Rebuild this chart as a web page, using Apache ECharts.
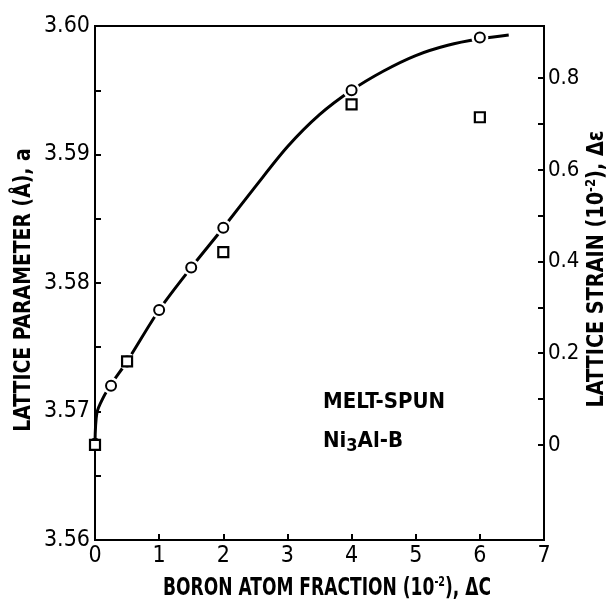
<!DOCTYPE html>
<html>
<head>
<meta charset="utf-8">
<script src="https://cdn.jsdelivr.net/npm/echarts@6/dist/echarts.min.js"></script>
<style>
  html, body { margin: 0; padding: 0; background: #fff; }
  #main { width: 608px; height: 602px; }
</style>
</head>
<body>
<div id="main"></div>
<script>
// 读图得到的数据
var fontName = "'DejaVu Sans Condensed', 'DejaVu Sans', sans-serif"
var xTicks = [0, 1, 2, 3, 4, 5, 6, 7]
var leftTicks = [3.56, 3.57, 3.58, 3.59, 3.60]
var strainLabels = [0, 0.2, 0.4, 0.6, 0.8]
var strainMinor = [0, 0.1, 0.2, 0.3, 0.4, 0.5, 0.6, 0.7, 0.8]
var a0 = 3.5674 // 无硼时的晶格常数
// 拟合曲线
var curveX = [0, 0.03, 0.13, 0.25, 0.5, 1, 1.5, 2, 2.5, 3, 3.5, 4, 4.5, 5, 5.5, 6, 6.45]
var curveA = [3.5675, 3.5699, 3.5711, 3.5721, 3.5739, 3.5779, 3.5812, 3.5843, 3.5875, 3.5906, 3.5931, 3.5950, 3.5965, 3.5977, 3.5985, 3.5990, 3.5993]
// 圆点：晶格常数
var circleX = [0, 0.25, 0.5, 1, 1.5, 2, 4, 6]
var circleA = [3.5675, 3.5720, 3.5739, 3.5779, 3.5812, 3.5843, 3.5950, 3.5991]
// 方点：晶格应变
var squareX = [0, 0.5, 2, 4, 6]
var squareA = [3.5674, 3.5739, 3.5824, 3.5939, 3.5929]

function zip(xs, ys) {
    return xs.map(function (x, i) { return [x, ys[i]] })
}
var curveData = zip(curveX, curveA)
var circleData = zip(circleX, circleA)
var squareData = zip(squareX, squareA)
// 线上留白（不含x=0，免得遮住坐标轴）
var haloData = circleData.concat(squareData).filter(function (p) { return p[0] > 0 })

var strainMin = (leftTicks[0] / a0 - 1) * 100
var strainMax = (leftTicks[leftTicks.length - 1] / a0 - 1) * 100

// 标题用粗体
var titleText = { fontSize: 23, fontWeight: 'bold', fill: '#000', fontFamily: fontName }
var supText = { fontSize: 14, fontWeight: 'bold', fill: '#000', fontFamily: fontName, padding: [0, 0, 12, 0] }

var myChart = echarts.init(document.getElementById('main'))
var option = {
    backgroundColor: '#fff',
    animation: false,
    textStyle: { fontFamily: fontName, color: '#000' },
    grid: {
        left: 95, right: 64, top: 26, bottom: 62,
        show: true, borderColor: '#000', borderWidth: 2,
        outerBoundsMode: 'none'
    },
    xAxis: {
        type: 'value', min: xTicks[0], max: xTicks[xTicks.length - 1], interval: 1,
        splitLine: { show: false },
        axisLine: { onZero: false, lineStyle: { color: '#000', width: 2 } },
        axisTick: { inside: true, length: 6, lineStyle: { color: '#000', width: 2 } },
        axisLabel: { color: '#000', fontSize: 23, margin: 5, fontFamily: fontName }
    },
    yAxis: [
        {
            type: 'value', min: leftTicks[0], max: leftTicks[leftTicks.length - 1], interval: 0.01,
            splitLine: { show: false },
            axisLine: { onZero: false, lineStyle: { color: '#000', width: 2 } },
            axisTick: { inside: true, length: 6, lineStyle: { color: '#000', width: 2 } },
            minorTick: { show: true, splitNumber: 2, length: 6, lineStyle: { color: '#000', width: 2 } },
            axisLabel: {
                color: '#000', fontSize: 23, margin: 5, fontFamily: fontName,
                formatter: function (v) { return v.toFixed(2) }
            }
        },
        {
            type: 'value', min: strainMin, max: strainMax,
            position: 'right',
            splitLine: { show: false },
            axisLine: { show: true, onZero: false, lineStyle: { color: '#000', width: 2 } },
            axisTick: { inside: true, length: 6, customValues: strainMinor, lineStyle: { color: '#000', width: 2 } },
            axisLabel: {
                color: '#000', fontSize: 22, margin: 4, fontFamily: fontName,
                customValues: strainLabels,
                formatter: function (v) { return v === 0 ? '0' : v.toFixed(1) }
            }
        }
    ],
    graphic: [
        {
            type: 'text', x: 327, y: 588, scaleX: 0.76,
            style: {
                text: '{a|BORON ATOM FRACTION (10}{s|-2}{a|), ΔC}',
                align: 'center', verticalAlign: 'middle',
                rich: { a: Object.assign({}, titleText, { fontSize: 25 }), s: supText }
            }
        },
        {
            type: 'text', x: 24, y: 290, rotation: Math.PI / 2, scaleX: 0.91,
            style: {
                text: '{a|LATTICE PARAMETER (Å), a}',
                align: 'center', verticalAlign: 'middle',
                rich: { a: titleText }
            }
        },
        {
            type: 'text', x: 597, y: 269, rotation: Math.PI / 2, scaleX: 0.93,
            style: {
                text: '{a|LATTICE STRAIN (10}{s|-2}{a|), Δε}',
                align: 'center', verticalAlign: 'middle',
                rich: { a: titleText, s: supText }
            }
        },
        {
            type: 'text', x: 323, y: 383,
            style: {
                text: '{a|MELT-SPUN}\n{a|Ni}{b|3}{a|Al-B}',
                rich: {
                    a: { fontSize: 22, fontWeight: 'bold', fill: '#000', fontFamily: fontName, lineHeight: 39 },
                    b: { fontSize: 18, fontWeight: 'bold', fill: '#000', fontFamily: fontName, padding: [10, 0, 0, 0], lineHeight: 39 }
                }
            }
        }
    ],
    series: [
        {
            name: 'curve', type: 'line', data: curveData, smooth: 0.3,
            showSymbol: false, z: 2,
            lineStyle: { color: '#000', width: 3 }
        },
        {
            name: 'halo', type: 'scatter', data: haloData, symbol: 'circle', symbolSize: 17, z: 3,
            itemStyle: { color: '#fff', opacity: 1 }, silent: true
        },
        {
            name: 'a', type: 'scatter', data: circleData, symbol: 'circle', symbolSize: 10, z: 4,
            itemStyle: { color: '#fff', borderColor: '#000', borderWidth: 2, opacity: 1 }
        },
        {
            name: 'strain', type: 'scatter', data: squareData, symbol: 'rect', symbolSize: 10, z: 5,
            itemStyle: { color: '#fff', borderColor: '#000', borderWidth: 2.2, opacity: 1 }
        }
    ]
}
myChart.setOption(option)
window.addEventListener('resize', function () { myChart.resize() })
</script>
</body>
</html>
